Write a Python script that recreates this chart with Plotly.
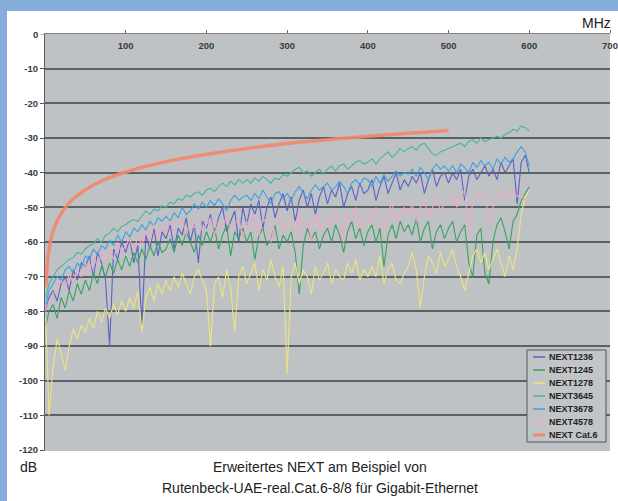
import plotly.graph_objects as go

# ---------------- data ----------------
FREQ = [1] + list(range(5, 601, 5))  # MHz sample grid (121 points)

NEXT1236 = [
    -80, -76, -74, -77, -72, -70, -74, -68, -71, -66,
    -67, -64, -70, -63, -66, -71, -90, -62, -65, -60,
    -63, -59, -66, -61, -84, -58, -62, -56, -64, -57,
    -59, -55, -62, -56, -58, -53, -60, -55, -66, -54,
    -56, -52, -58, -53, -50, -57, -54, -51, -60, -50,
    -55, -49, -52, -48, -56, -50, -47, -53, -49, -46,
    -51, -47, -54, -48, -45, -50, -46, -52, -47, -44,
    -49, -45, -47, -43, -50, -46, -44, -48, -43, -46,
    -45, -42, -48, -44, -41, -46, -43, -40, -45, -42,
    -44, -41, -43, -40, -46, -42, -39, -44, -41, -40,
    -43, -40, -42, -39, -48, -41, -39, -42, -40, -38,
    -41, -39, -42, -37, -40, -38, -36, -49, -37, -35,
    -40,
]
NEXT1245 = [
    -84, -80, -78, -82, -76, -79, -74, -77, -72, -75,
    -71, -74, -69, -72, -67, -70, -66, -69, -65, -68,
    -64, -67, -63, -66, -62, -65, -61, -64, -60, -63,
    -62, -59, -63, -58, -61, -57, -60, -63, -58, -61,
    -57, -60, -56, -62, -58, -55, -64, -57, -59, -56,
    -60, -57, -65, -58, -56, -61, -59, -55, -62, -58,
    -60, -57, -63, -75, -61, -56, -59, -57, -62, -58,
    -56, -60, -55, -58, -63, -57, -54, -59, -56, -61,
    -57, -55, -60, -56, -67, -58, -55, -59, -54, -57,
    -55, -58, -53, -60, -56, -54, -62, -57, -55, -59,
    -56, -54, -60, -57, -55, -66, -70, -58, -56, -69,
    -72, -60, -55, -53, -57, -62, -54, -52, -48, -46,
    -44,
]
NEXT1278 = [
    -82, -110, -96, -88, -92, -97, -90, -85, -88, -84,
    -86, -82, -85, -80, -83, -79, -82, -78, -81, -77,
    -80, -76, -79, -74, -86, -76, -73, -77, -72, -75,
    -71, -74, -70, -73, -69, -72, -75, -70, -68, -71,
    -74, -90, -72, -70, -76, -68, -73, -86, -70, -67,
    -72, -69, -66, -74, -68, -71, -65, -70, -73, -67,
    -98, -70, -66, -72, -68, -70, -75, -67, -71, -69,
    -66, -72, -68, -70, -71, -66, -69, -65, -71, -68,
    -70, -67, -70, -64, -72, -68, -66, -71, -72, -69,
    -67, -63, -68, -79, -70, -64, -66, -69, -63, -67,
    -65, -62, -67, -70, -74, -69, -64, -62, -66, -63,
    -68, -65, -62, -66, -70, -64, -68, -62, -52, -47,
    -45,
]
NEXT3645 = [
    -76, -72, -70, -68, -67, -66, -65, -64.5, -63, -63.5,
    -62, -61, -60.5, -59, -60, -58, -57.5, -56, -57, -55.5,
    -55, -54, -53.5, -54, -52.5, -51, -52, -50.5, -51, -49.5,
    -50, -48.5, -49, -47.5, -48, -46.5, -47, -46, -45.5, -46.5,
    -45, -44.5, -45.5, -44, -43, -44, -42.5, -43.5, -42, -43,
    -42, -43, -41.5, -42.5, -41, -42, -43, -41.5, -42, -40.5,
    -41, -40, -39, -38.5, -40, -39.5, -41, -40, -39, -40.5,
    -39, -38, -39.5, -38, -37.5, -39, -38, -37, -36.5, -37.5,
    -37, -36, -37.5, -36, -35, -34, -35.5, -34.5, -33, -34,
    -33, -32.5, -33.5, -32, -31.5, -33, -34.5, -35, -34, -33.5,
    -33, -32.5, -32, -31.5, -32.5, -31, -30.5, -31.5, -30, -31,
    -30.5, -30, -29.5, -30, -29, -28.5, -27.5, -28, -26.5, -27,
    -28,
]
NEXT3678 = [
    -78, -74, -72, -70, -71, -68, -67, -69, -66, -67.5,
    -64, -65, -62, -63.5, -61, -62, -59.5, -61, -58, -60,
    -57, -58.5, -56, -57, -55, -56.5, -54, -55.5, -53, -54,
    -52.5, -54, -51.5, -53, -50, -52, -51, -49, -50.5, -48.5,
    -50, -48, -49.5, -47.5, -49, -51, -48, -46.5, -48, -47,
    -46.5, -48, -46, -47.5, -45, -47, -49, -46, -45.5, -47.5,
    -46, -48, -45.5, -44, -46, -47.5, -45, -43.5, -45, -44,
    -43, -45, -44, -42.5, -44, -46, -43, -42, -43.5, -41.5,
    -42, -44, -41, -43, -40.5, -42.5, -41, -39.5, -41, -40,
    -40.5, -39, -41, -38.5, -40, -42, -39, -37.5, -39, -38,
    -39.5, -38, -40, -37.5, -38.5, -40, -37, -38.5, -36.5, -38,
    -37, -39, -36, -37.5, -35.5, -37, -36, -34, -32.5, -34,
    -38,
]
NEXT4578 = [
    -80, -77, -75, -73, -71, -74, -69, -72, -68, -70,
    -66, -69, -64, -67, -63, -66, -62, -65, -60, -63,
    -61, -59, -63, -58, -61, -57, -60, -55, -59, -56,
    -58, -54, -57, -55, -53, -58, -54, -56, -52, -57,
    -55, -53, -58, -54, -56, -52, -57, -55, -53, -59,
    -54, -56, -52, -58, -53, -55, -60, -54, -52, -57,
    -55, -53, -58, -51, -56, -54, -59, -52, -55, -57,
    -53, -56, -51, -55, -60, -52, -54, -50, -56, -53,
    -51, -55, -50, -53, -57, -51, -49, -54, -52, -50,
    -52, -49, -54, -50, -48, -53, -50, -47, -51, -49,
    -48, -46, -50, -47, -45, -58, -48, -46, -47, -45,
    -55, -50, -47, -45, -46, -48, -45, -47, -46, -48,
    -48,
]
CAT6_FREQ = [1, 2, 3, 4, 5, 7, 10, 15, 20, 30, 40, 50, 70, 100,
             150, 200, 250, 300, 350, 400, 450, 500]
CAT6_DB = [-73, -68.9, -65.8, -63.7, -62.0, -59.5, -56.9, -53.9, -51.8,
           -48.7, -46.6, -44.9, -42.4, -39.8, -36.8, -34.7, -33.0, -31.6,
           -30.5, -29.5, -28.6, -27.8]

SERIES_NAMES = ["NEXT1236", "NEXT1245", "NEXT1278", "NEXT3645",
                "NEXT3678", "NEXT4578", "NEXT Cat.6"]
X_TICKS = [100, 200, 300, 400, 500, 600, 700]
Y_TICKS = [-10, -20, -30, -40, -50, -60, -70, -80, -90, -100, -110, -120]
Y_TOP_LABEL = 0

# ---------------- style ----------------
COLORS = ["#5a62c4", "#36a35e", "#ece47c", "#46b4a2", "#3aa2e2",
          "#f2a6c6", "#f2876a"]
W, H = 618, 501
ML, MR, MT, MB = 45, 8, 34, 50
PW, PH = W - ML - MR, H - MT - MB


def px_x(px):
    return (px - ML) / PW


def px_y(py):
    return (H - MB - py) / PH


fig = go.Figure()
data_list = [NEXT1236, NEXT1245, NEXT1278, NEXT3645, NEXT3678, NEXT4578]
for name, vals, col in zip(SERIES_NAMES[:6], data_list, COLORS[:6]):
    fig.add_trace(go.Scatter(x=FREQ, y=vals, mode="lines", name=name,
                             line=dict(color=col, width=1.1),
                             showlegend=False, hoverinfo="skip"))
fig.add_trace(go.Scatter(x=CAT6_FREQ, y=CAT6_DB, mode="lines",
                         name=SERIES_NAMES[6], opacity=0.9,
                         line=dict(color=COLORS[6], width=3.5, shape="spline"),
                         showlegend=False, hoverinfo="skip"))

shapes = [
    # blue frame strips
    dict(type="rect", xref="paper", yref="paper", x0=px_x(0), x1=px_x(W),
         y0=px_y(11), y1=px_y(0), fillcolor="#86aedc", line_width=0,
         layer="below"),
    dict(type="rect", xref="paper", yref="paper", x0=px_x(0), x1=px_x(7),
         y0=px_y(H), y1=px_y(0), fillcolor="#86aedc", line_width=0,
         layer="below"),
    # small tick for the 0 label
    dict(type="line", xref="paper", yref="y", x0=px_x(41), x1=px_x(45),
         y0=Y_TOP_LABEL, y1=Y_TOP_LABEL, line=dict(color="#555", width=1)),
]
annotations = [
    dict(xref="paper", yref="y", x=px_x(40), y=Y_TOP_LABEL,
         text=f"<b>{Y_TOP_LABEL}</b>", showarrow=False, xanchor="right",
         yanchor="middle",
         font=dict(family="Liberation Sans, Arial", size=9.5, color="#3a3a3a")),
]

# manual legend
LX0, LX1, LY0, LY1 = 527, 606, 350, 442
shapes.append(dict(type="rect", xref="paper", yref="paper",
                   x0=px_x(LX0), x1=px_x(LX1), y0=px_y(LY1), y1=px_y(LY0),
                   fillcolor="#c2c5c8", line=dict(color="#4e5666", width=1)))
for i, (name, col) in enumerate(zip(SERIES_NAMES, COLORS)):
    yy = 357 + 13 * i
    shapes.append(dict(type="line", xref="paper", yref="paper",
                       x0=px_x(533), x1=px_x(545), y0=px_y(yy), y1=px_y(yy),
                       line=dict(color=col, width=3 if i == 6 else 1.5)))
    annotations.append(dict(xref="paper", yref="paper", x=px_x(547),
                            y=px_y(yy), text=f"<b>{name}</b>", showarrow=False,
                            xanchor="left", yanchor="middle",
                            font=dict(family="Liberation Sans, Arial", size=9,
                                      color="#222222")))

annotations += [
    dict(xref="paper", yref="paper", x=px_x(613), y=px_y(23), text="MHz",
         showarrow=False, xanchor="right", yanchor="middle",
         font=dict(family="Liberation Sans, Arial", size=14, color="#222")),
    dict(xref="paper", yref="paper", x=px_x(18), y=px_y(467), text="dB",
         showarrow=False, xanchor="left", yanchor="middle",
         font=dict(family="Liberation Sans, Arial", size=14, color="#222")),
    dict(xref="paper", yref="paper", x=px_x(320), y=px_y(467),
         text="Erweitertes NEXT am Beispiel von",
         showarrow=False, xanchor="center", yanchor="middle",
         font=dict(family="Liberation Sans, Arial", size=14, color="#222")),
    dict(xref="paper", yref="paper", x=px_x(320), y=px_y(488),
         text="Rutenbeck-UAE-real.Cat.6-8/8 für Gigabit-Ethernet",
         showarrow=False, xanchor="center", yanchor="middle",
         font=dict(family="Liberation Sans, Arial", size=14, color="#222")),
]

tick_font = dict(family="Liberation Sans, Arial", size=9.5, color="#3a3a3a")
fig.update_layout(
    width=W, height=H,
    margin=dict(l=ML, r=MR, t=MT, b=MB, pad=0, autoexpand=False),
    paper_bgcolor="#ffffff", plot_bgcolor="#bfc2c5",
    showlegend=False, hovermode=False,
    shapes=shapes, annotations=annotations,
    xaxis=dict(range=[0, 700], side="top", tickvals=X_TICKS,
               ticktext=[f"<b>{v}</b>" for v in X_TICKS],
               ticklabelposition="inside", ticklabelstandoff=7,
               ticklabeloverflow="allow", automargin=False,
               ticks="outside", ticklen=3,
               tickcolor="#6a6a6a", showgrid=False, zeroline=False,
               showline=True, linecolor="#8a7c7a", linewidth=1.5,
               tickfont=tick_font, fixedrange=True),
    yaxis=dict(range=[-120.25, 0], tickvals=Y_TICKS,
               ticktext=[f"<b>{v}</b>" for v in Y_TICKS],
               ticks="outside", ticklen=4, tickcolor="#555",
               showgrid=True, gridcolor="#5a6268", gridwidth=2,
               zeroline=False, showline=True, linecolor="#5a5f66",
               linewidth=1, tickfont=tick_font, fixedrange=True,
               automargin=False),
)

fig.write_html(
    "out.html",
    config={"displayModeBar": False, "staticPlot": True},
    post_script="document.body.style.margin='0';document.body.style.overflow='hidden';",
)
